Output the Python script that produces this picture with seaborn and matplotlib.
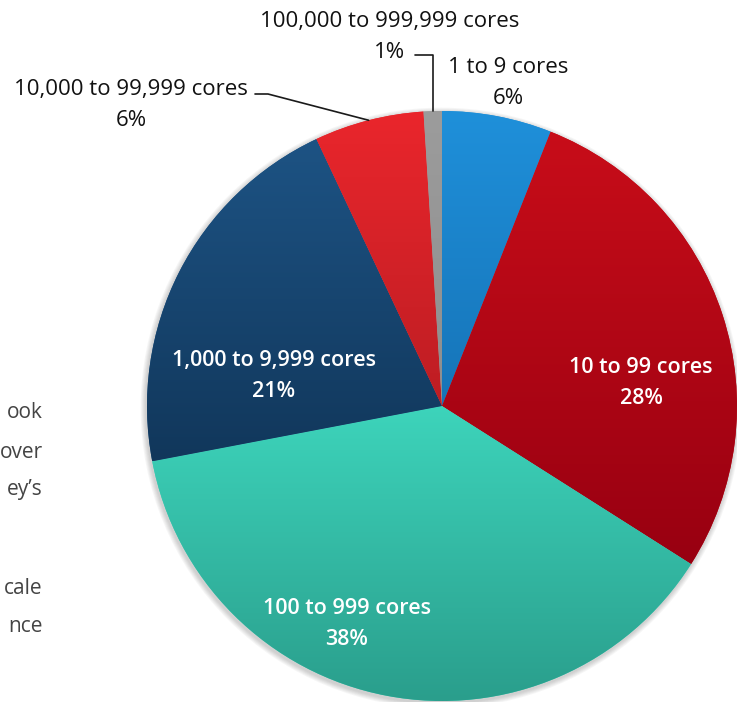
import numpy as np
import matplotlib
matplotlib.use("Agg")
import matplotlib.pyplot as plt
import matplotlib.colors as mcolors
from matplotlib.patches import Circle
import seaborn as sns

sns.set_theme(style="white")
plt.rcParams['font.family'] = ['Open Sans', 'DejaVu Sans']

# data
categories = ['1 to 9 cores', '10 to 99 cores', '100 to 999 cores',
              '1,000 to 9,999 cores', '10,000 to 99,999 cores',
              '100,000 to 999,999 cores']
shares = [6, 28, 38, 21, 6, 1]

# gradient colours per slice (top, bottom)
top_colors = ['#1f90da', '#c80d19', '#3dd4bb', '#1d5384', '#ea262c', '#9c9c9c']
bottom_colors = ['#1674b8', '#980011', '#2a9e8c', '#11375b', '#bd1d23', '#8e8e8e']

# canvas in pixels, y up
W, H = 737, 702
cx, cy, R = 442, H - 406, 295

fig = plt.figure(figsize=(W / 100, H / 100), dpi=100)
ax = fig.add_axes([0, 0, 1, 1])

# soft shadow around the pie
for i in range(1, 7):
    ax.add_patch(Circle((cx - 1, cy - 2), R + i * 0.9, color='k',
                        alpha=0.035, lw=0, zorder=0))

wedges, _ = ax.pie(shares, colors=top_colors, startangle=90, counterclock=False,
                   center=(cx, cy), radius=R, frame=True,
                   wedgeprops=dict(linewidth=0))

# vertical gradient inside each slice
for w, c0, c1 in zip(wedges, top_colors, bottom_colors):
    bb = w.get_path().get_extents()
    a = np.array(mcolors.to_rgb(c0))
    b = np.array(mcolors.to_rgb(c1))
    t = np.linspace(0, 1, 256)[:, None, None]
    img = a * (1 - t) + b * t
    im = ax.imshow(img, extent=(bb.x0, bb.x1, bb.y0, bb.y1), origin='upper',
                   aspect='auto', zorder=2, interpolation='bilinear')
    im.set_clip_path(w)

ax.set_xlim(0, W)
ax.set_ylim(0, H)
ax.set_aspect('equal')
ax.axis('off')

def edge_point(w):
    mid = np.deg2rad((w.theta1 + w.theta2) / 2)
    return cx + R * np.cos(mid), cy + R * np.sin(mid)

# label positions (pixel coords from top-left)
label_pos = [(508, 83), (641, 383), (347, 624), (274, 376), (131, 105), (390, 37)]
inside = [False, True, True, True, False, False]

for name, val, (px, py), ins in zip(categories, shares, label_pos, inside):
    ax.text(px, H - py, f'{name}\n{val}%', ha='center', va='center',
            fontsize=16 if not ins else 15.5,
            fontweight='semibold' if ins else 'normal',
            color='white' if ins else '#111111',
            linespacing=1.65, zorder=5)

# leader lines
ex, ey = edge_point(wedges[5])
ax.plot([415, ex, ex], [H - 55, H - 55, ey], color='#1a1a1a', lw=1.2, zorder=4)
ex, ey = edge_point(wedges[4])
ax.plot([255, 268, ex], [H - 94, H - 94, ey], color='#1a1a1a', lw=1.2, zorder=4)

# clipped slide text on the left
side_text = ['ook', 'over', 'ey\u2019s', 'cale', 'nce']
side_y = [413, 452, 490, 588, 626]
for s, y in zip(side_text, side_y):
    ax.text(43, H - y, s, ha='right', va='center', fontsize=15,
            color='#444444', zorder=5)

fig.savefig('out.png', dpi=100)
